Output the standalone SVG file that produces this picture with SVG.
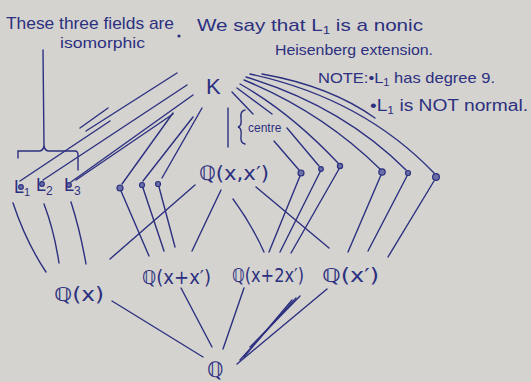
<svg xmlns="http://www.w3.org/2000/svg" width="531" height="382" viewBox="0 0 531 382">
<style>
.t{font-family:"Liberation Sans","DejaVu Sans",sans-serif;fill:#2c3080;}
.m{font-family:"DejaVu Sans","Liberation Sans",sans-serif;fill:#2c3080;}
.c{stroke:#2c3080;stroke-width:1.4;fill:none;stroke-linecap:round;}
.d{stroke:#2c3080;stroke-width:1.2;fill:#6a6fa8;}
</style>
<rect width="531" height="382" fill="#d5d3cf"/>

<g id="notes">
<text class="t" x="6" y="29" font-size="17" textLength="168" lengthAdjust="spacingAndGlyphs">These three fields are</text>
<circle cx="179" cy="36" r="1.6" fill="#2c3080"/>
<text class="t" x="60" y="48" font-size="15" textLength="85" lengthAdjust="spacingAndGlyphs">isomorphic</text>
<text class="t" x="197" y="31" font-size="17" textLength="226" lengthAdjust="spacingAndGlyphs">We say that L<tspan font-size="11" dy="3">1</tspan><tspan dy="-3"> is a nonic</tspan></text>
<text class="t" x="275" y="55" font-size="15" textLength="158" lengthAdjust="spacingAndGlyphs">Heisenberg extension.</text>
<text class="t" x="318" y="83" font-size="15" textLength="177" lengthAdjust="spacingAndGlyphs">NOTE:•L<tspan font-size="10" dy="3">1</tspan><tspan dy="-3"> has degree 9.</tspan></text>
<text class="t" x="370" y="111" font-size="16" textLength="158" lengthAdjust="spacingAndGlyphs">•L<tspan font-size="10" dy="3">1</tspan><tspan dy="-3"> is NOT normal.</tspan></text>
<path class="c" d="M43,50 L44,146" stroke-width="2.6"/>
<path class="c" d="M18,158 V151 H39 Q43,151 44,146 Q45,151 49,151 H75 Q78,151 78,155 V170"/>
</g>

<g id="K"><text class="t" x="206" y="94" font-size="22">K</text></g>
<g id="centre">
<path class="c" d="M228,108 L228,147" stroke-width="2.4"/>
<path class="c" d="M245,110 Q240,111 241,118 Q242,126 238,127 Q242,128 241,136 Q240,143 245,144"/>
<text class="t" x="248" y="132" font-size="12">centre</text>
</g>
<g id="Qxx"><text class="m" x="199" y="180" font-size="20" textLength="70" lengthAdjust="spacingAndGlyphs">ℚ(x,x′)</text></g>

<g id="L1"><text class="t" x="14" y="193" font-size="18">L<tspan font-size="11" dy="3">1</tspan></text><circle class="d" cx="21" cy="187" r="2.3"/></g>
<g id="L2"><text class="t" x="36" y="191" font-size="18">L<tspan font-size="12" dy="4">2</tspan></text><circle class="d" cx="42" cy="184" r="2.3"/></g>
<g id="L3"><text class="t" x="64" y="191" font-size="18">L<tspan font-size="12" dy="4">3</tspan></text><circle class="d" cx="69" cy="185" r="2.3"/></g>

<g id="pa"><circle class="d" cx="120" cy="188" r="3"/></g>
<g id="pb"><circle class="d" cx="142" cy="185" r="2.5" fill="none"/></g>
<g id="pc"><circle class="d" cx="158" cy="184" r="2.5" fill="none"/></g>
<g id="pd"><circle class="d" cx="301" cy="173" r="3"/></g>
<g id="pe"><circle class="d" cx="321" cy="169" r="2.3" fill="none"/></g>
<g id="pf"><circle class="d" cx="340" cy="166" r="2.6" fill="none"/></g>
<g id="pg"><circle class="d" cx="382" cy="172" r="3.2"/></g>
<g id="ph"><circle class="d" cx="408" cy="173" r="2.5"/></g>
<g id="pi"><circle class="d" cx="436" cy="177" r="3.4"/></g>

<g id="Qx"><text class="m" x="54" y="301" font-size="19" textLength="50" lengthAdjust="spacingAndGlyphs">ℚ(x)</text></g>
<g id="Qxpx"><text class="m" x="142" y="284" font-size="19" textLength="69" lengthAdjust="spacingAndGlyphs">ℚ(x+x′)</text></g>
<g id="Qxp2x"><text class="m" x="232" y="282" font-size="19" textLength="72" lengthAdjust="spacingAndGlyphs">ℚ(x+2x′)</text></g>
<g id="Qxp"><text class="m" x="322" y="282" font-size="19" textLength="57" lengthAdjust="spacingAndGlyphs">ℚ(x′)</text></g>
<g id="Q"><text class="m" x="207" y="377" font-size="21">ℚ</text></g>

<g id="connectors">
<path class="c" d="M20,181 L110,121"/>
<path class="c" d="M86,131 L177,73"/>
<path class="c" d="M43,180 L187,85"/>
<path class="c" d="M71,182 L193,95"/>
<path class="c" d="M76,180 L173,114"/>
<path class="c" d="M122,184 L173,113"/>
<path class="c" d="M143,181 L193,117"/>
<path class="c" d="M162,178 L202,108"/>
<path class="c" d="M80,128 L108,108"/>
<path class="c" d="M232,92 L253,114"/>
<path class="c" d="M237,88 L272,114"/>
<path class="c" d="M287,128 L319,166"/>
<path class="c" d="M274,141 L299,170"/>
<path class="c" d="M240,84 Q290,112 338,163"/>
<path class="c" d="M244,80 Q322,112 380,169"/>
<path class="c" d="M246,77 Q342,106 406,170"/>
<path class="c" d="M250,74 Q362,98 434,173"/>
<path class="c" d="M262,74 Q330,86 375,118"/>
<path class="c" d="M13,203 Q26,242 46,272"/>
<path class="c" d="M44,204 Q54,230 59,263"/>
<path class="c" d="M71,202 Q80,230 86,264"/>
<path class="c" d="M121,191 L149,256"/>
<path class="c" d="M143,188 L164,251"/>
<path class="c" d="M159,187 L175,247"/>
<path class="c" d="M110,259 L195,185"/>
<path class="c" d="M221,190 L192,251"/>
<path class="c" d="M233,199 Q252,225 264,252"/>
<path class="c" d="M256,187 L329,248"/>
<path class="c" d="M300,176 L269,252"/>
<path class="c" d="M320,172 L280,252"/>
<path class="c" d="M339,169 L291,253"/>
<path class="c" d="M381,175 L348,252"/>
<path class="c" d="M407,176 L368,251"/>
<path class="c" d="M434,181 L388,257"/>
<path class="c" d="M112,301 L203,357"/>
<path class="c" d="M181,288 L212,347"/>
<path class="c" d="M244,288 L223,349"/>
<path class="c" d="M327,289 L237,364"/>
<path class="c" d="M296,298 L240,360"/>
<path class="c" d="M292,300 L244,357"/>
<path class="c" d="M300,296 L250,347"/>
</g>
</svg>
